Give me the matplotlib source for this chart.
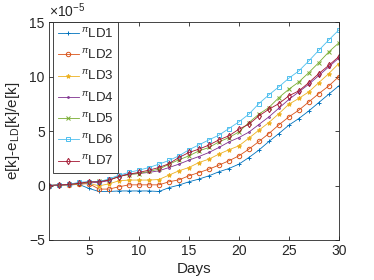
import matplotlib
matplotlib.use("Agg")
import matplotlib.pyplot as plt
import numpy as np

plt.rcParams['font.family'] = ['Liberation Sans', 'DejaVu Sans']
plt.rcParams['mathtext.fontset'] = 'custom'
plt.rcParams['mathtext.rm'] = 'Liberation Sans'
plt.rcParams['mathtext.it'] = 'Liberation Sans:italic'

days = list(range(1, 31))
ld1 = [0, 0.02, 0.05, 0.1, -0.27, -0.55, -0.55, -0.5, -0.5, -0.5, -0.5, -0.55, -0.2, 0.04, 0.34, 0.59, 0.89, 1.26, 1.56, 1.96, 2.57, 3.25, 4.04, 4.77, 5.54, 6.15, 6.85, 7.62, 8.39, 9.15]
ld2 = [0, 0.03, 0.06, 0.12, 0.18, -0.33, -0.33, -0.12, 0.06, 0.06, 0.06, 0.06, 0.34, 0.52, 0.89, 1.19, 1.5, 1.87, 2.27, 2.72, 3.34, 4.04, 4.77, 5.57, 6.3, 6.92, 7.68, 8.44, 9.15, 10.0]
ld3 = [0, 0.04, 0.08, 0.15, 0.2, -0.03, 0.15, 0.43, 0.5, 0.5, 0.5, 0.55, 0.95, 1.35, 1.65, 2.11, 2.42, 2.88, 3.28, 3.64, 4.35, 5.08, 5.78, 6.6, 7.46, 8.0, 8.6, 9.45, 10.28, 11.2]
ld4 = [0, 0.05, 0.1, 0.2, 0.25, 0.28, 0.45, 0.89, 1.05, 1.1, 1.2, 1.35, 1.65, 1.96, 2.33, 2.66, 3.03, 3.49, 4.0, 4.4, 4.9, 5.6, 6.3, 7.1, 7.9, 8.6, 9.3, 10.1, 10.9, 11.7]
ld5 = [0, 0.05, 0.1, 0.2, 0.3, 0.4, 0.5, 0.85, 1.0, 1.1, 1.3, 1.5, 1.95, 2.36, 2.72, 3.18, 3.49, 4.0, 4.4, 4.92, 5.78, 6.55, 7.16, 8.07, 8.84, 9.51, 10.37, 11.29, 12.27, 13.1]
ld6 = [0, 0.05, 0.1, 0.3, 0.35, 0.35, 0.6, 0.95, 1.2, 1.41, 1.65, 1.96, 2.3, 2.72, 3.28, 3.73, 4.19, 4.62, 5.23, 5.84, 6.55, 7.52, 8.32, 9.06, 9.85, 10.52, 11.44, 12.42, 13.37, 14.28]
ld7 = [0, 0.05, 0.1, 0.2, 0.34, 0.34, 0.5, 0.8, 1.05, 1.2, 1.41, 1.65, 2.0, 2.57, 3.03, 3.34, 3.71, 4.19, 4.56, 5.17, 5.63, 6.39, 7.0, 7.52, 8.23, 8.69, 9.45, 10.28, 11.04, 11.83]
series = [ld1, ld2, ld3, ld4, ld5, ld6, ld7]
labels = [r'${}^{\pi}$LD%d' % i for i in range(1, 8)]
colors = ['#0072BD', '#D95319', '#EDB120', '#7E2F8E', '#77AC30', '#4DBEEE', '#A2142F']
markers = ['+', 'o', '*', '.', 'x', 's', 'd']
xticks = [5, 10, 15, 20, 25, 30]
yticks = [-5, 0, 5, 10, 15]

fig = plt.figure(figsize=(3.74, 2.80), dpi=100)
ax = fig.add_axes([0.131, 0.143, 0.775, 0.778])
for s, lab, c, m in zip(series, labels, colors, markers):
    ms = 3.2
    if m == '.':
        ms = 2.5
    mfc = c if m == '*' else 'none'
    ax.plot(days, s, color=c, marker=m, ms=ms, lw=0.6, mew=0.7,
            mfc=mfc, label=lab)

ax.set_xlim(1, 30)
ax.set_ylim(-5, 15)
ax.set_xticks(xticks)
ax.set_yticks(yticks)
ax.tick_params(direction='in', top=True, right=True, labelsize=10, length=3,
               color='#262626', labelcolor='#262626', width=0.6, pad=3)
for sp in ax.spines.values():
    sp.set_color('#262626')
    sp.set_linewidth(0.6)
ax.text(0.0, 1.01, r'$\times10^{-5}$', transform=ax.transAxes, fontsize=10,
        color='#262626', ha='left', va='bottom')
ax.set_xlabel('Days', fontsize=11, color='#262626', labelpad=3)
ax.set_ylabel(r'e[k]-e$_{\mathrm{LD}}$[k]/e[k]', fontsize=11, color='#262626', labelpad=5)

leg = ax.legend(loc='upper left', bbox_to_anchor=(0.014, 1.0), borderaxespad=0,
                prop={'size': 9.5}, fancybox=False, edgecolor='#262626', framealpha=1,
                handlelength=1.6, labelspacing=0.55, handletextpad=0.15,
                borderpad=0.35)
leg.get_frame().set_linewidth(0.6)
for t in leg.get_texts():
    t.set_color('#262626')

fig.savefig('out.png', dpi=100)
